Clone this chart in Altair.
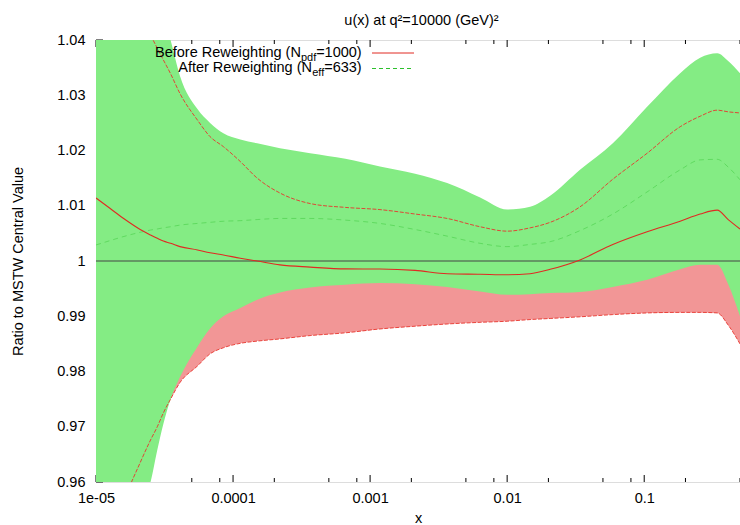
import altair as alt
import pandas as pd

# ---- data ----
x_vals = [1e-5, 1.27e-5, 1.63e-5, 2.1e-5, 2.5e-5, 2.8e-5, 3.1e-5, 3.5e-5, 4.1e-5, 5.5e-5,
          6.8e-5, 8.5e-5, 1.13e-4, 1.5e-4, 2.2e-4, 3.65e-4, 6.6e-4, 1.18e-3, 2.13e-3, 3.65e-3,
          6.35e-3, 0.01, 0.0147, 0.0206, 0.034, 0.059, 0.105, 0.183, 0.256, 0.341, 0.41, 0.5]

before_central = [1.0114, 1.0095, 1.0075, 1.0057, 1.0047, 1.0041, 1.0036, 1.0032, 1.0026, 1.0020,
                  1.0015, 1.0011, 1.0005, 1.0000, 0.9993, 0.9989, 0.99857, 0.99855, 0.9983, 0.9977,
                  0.9976, 0.9975, 0.9977, 0.9985, 1.0002, 1.0030, 1.0053, 1.0072, 1.0085, 1.0092,
                  1.0075, 1.0058]
before_upper = [1.070, 1.062, 1.052, 1.046, 1.041, 1.0385, 1.0364, 1.0339, 1.0303, 1.0255,
                1.0225, 1.0207, 1.0180, 1.0150, 1.0123, 1.0104, 1.0097, 1.0093, 1.0085, 1.0077,
                1.0062, 1.0054, 1.0060, 1.0070, 1.0098, 1.0148, 1.0195, 1.0243, 1.0262, 1.0273,
                1.0270, 1.0268]
before_lower = [0.940, 0.948, 0.957, 0.9635, 0.9676, 0.9700, 0.9725, 0.9750, 0.9780, 0.9810,
                0.9832, 0.9843, 0.9851, 0.9855, 0.9859, 0.9865, 0.9870, 0.9877, 0.9882, 0.9886,
                0.9889, 0.9891, 0.9894, 0.9896, 0.9899, 0.9903, 0.9906, 0.9907, 0.9907, 0.9906,
                0.9884, 0.9850]
after_central = [1.0029, 1.0037, 1.0045, 1.0052, 1.0056, 1.0058, 1.0060, 1.0062, 1.0065, 1.0068,
                 1.0070, 1.0072, 1.0073, 1.0075, 1.0077, 1.0077, 1.0074, 1.0068, 1.0057, 1.0045,
                 1.0032, 1.0026, 1.0030, 1.0035, 1.0055, 1.0085, 1.0125, 1.0165, 1.0183, 1.0184,
                 1.0170, 1.0147]
after_upper = [1.090, 1.080, 1.067, 1.057, 1.052, 1.048, 1.0445, 1.040, 1.0335, 1.0275,
               1.0250, 1.0231, 1.0220, 1.0213, 1.0204, 1.0195, 1.0185, 1.0171, 1.0158, 1.0141,
               1.0115, 1.0093, 1.0098, 1.0118, 1.0165, 1.0213, 1.0279, 1.0340, 1.0368, 1.0376,
               1.0362, 1.0340]
after_lower = [0.920, 0.935, 0.947, 0.955, 0.960, 0.9658, 0.9705, 0.9750, 0.9790, 0.9845,
               0.9878, 0.9900, 0.9915, 0.9930, 0.9943, 0.9952, 0.9957, 0.9960, 0.9958, 0.9953,
               0.9945, 0.9939, 0.9940, 0.9942, 0.9944, 0.9953, 0.9966, 0.9985, 0.9993, 0.9993,
               0.9958, 0.9900]

x_major = [1e-5, 1e-4, 1e-3, 1e-2, 1e-1]
x_minor = [2e-5, 5e-5, 8e-5, 2e-4, 5e-4, 8e-4, 2e-3, 5e-3, 8e-3, 2e-2, 5e-2, 8e-2, 2e-1, 5e-1]
y_major = [0.96, 0.97, 0.98, 0.99, 1.0, 1.01, 1.02, 1.03, 1.04]

title_text = "u(x) at q\u00b2=10000 (GeV)\u00b2"
x_title = "x"
y_title = "Ratio to MSTW Central Value"

df = pd.DataFrame({
    "x": x_vals,
    "bc": before_central, "bu": before_upper, "bl": before_lower,
    "ac": after_central, "au": after_upper, "al": after_lower,
})
xmaj_df = pd.DataFrame({"x": x_major})
xmin_df = pd.DataFrame({"x": x_minor})
ymaj_df = pd.DataFrame({"y": y_major})
one = pd.DataFrame({"k": [0]})

FONT = "Liberation Sans"
W, H = 644, 442

xscale = alt.Scale(type="log", domain=[1e-5, 0.5], nice=False)
yscale = alt.Scale(domain=[0.96, 1.04], nice=False, zero=False)
xaxis = alt.Axis(values=x_major, ticks=False, domain=False, grid=False,
                 labelExpr="datum.value < 0.00005 ? '1e-05' : toString(datum.value)",
                 labelFont=FONT, labelFontSize=14.5, labelColor="#000", labelPadding=9,
                 labelFlush=False,
                 title=x_title, titleFont=FONT, titleFontSize=14.5, titleFontWeight="normal",
                 titleColor="#000", titlePadding=7)
yaxis = alt.Axis(values=y_major, ticks=False, domain=False, grid=False,
                 labelExpr="abs(datum.value - 1) < 1e-9 ? '1' : format(datum.value, '.2f')",
                 labelFont=FONT, labelFontSize=14.5, labelColor="#000", labelPadding=11,
                 title=y_title, titleFont=FONT, titleFontSize=14.5, titleFontWeight="normal",
                 titleColor="#000", titleX=-78, titleY=H / 2, titleAlign="center",
                 titleBaseline="middle")


def X(field="x"):
    return alt.X(f"{field}:Q", scale=xscale, axis=xaxis)


def Y(field):
    return alt.Y(f"{field}:Q", scale=yscale, axis=yaxis)


# ticks (inward, drawn beneath the bands)
bot_major = alt.Chart(xmaj_df).mark_rule(color="#000", strokeWidth=1).encode(
    x=X(), y=alt.value(H), y2=alt.value(H - 7))
top_major = alt.Chart(xmaj_df).mark_rule(color="#000", strokeWidth=1).encode(
    x=X(), y=alt.value(0), y2=alt.value(7))
bot_minor = alt.Chart(xmin_df).mark_rule(color="#000", strokeWidth=1).encode(
    x=X(), y=alt.value(H), y2=alt.value(H - 4))
top_minor = alt.Chart(xmin_df).mark_rule(color="#000", strokeWidth=1).encode(
    x=X(), y=alt.value(0), y2=alt.value(4))
left_major = alt.Chart(ymaj_df).mark_rule(color="#000", strokeWidth=1).encode(
    y=Y("y"), x=alt.value(0), x2=alt.value(7))

base = alt.Chart(df)
red_band = base.mark_area(color="#f29696", clip=True, interpolate="monotone").encode(
    x=X(), y=Y("bl"), y2="bu:Q")
green_band = base.mark_area(color="#84ec84", clip=True, interpolate="monotone").encode(
    x=X(), y=Y("al"), y2="au:Q")

unity = alt.Chart(one).mark_rule(color="#444", strokeWidth=1).encode(
    y=alt.Y("v:Q", scale=yscale, axis=yaxis), x=alt.value(0), x2=alt.value(W)
).transform_calculate(v="1")

red_up = base.mark_line(color="#e8342c", strokeWidth=0.9, clip=True, interpolate="monotone",
                        strokeDash=[4, 1.5]).encode(x=X(), y=Y("bu"))
red_lo = base.mark_line(color="#e8342c", strokeWidth=0.9, clip=True, interpolate="monotone",
                        strokeDash=[4, 1.5]).encode(x=X(), y=Y("bl"))
green_c = base.mark_line(color="#3cc83c", strokeWidth=1, clip=True, interpolate="monotone",
                         strokeDash=[5, 4], opacity=0.5).encode(x=X(), y=Y("ac"))
red_c = base.mark_line(color="#e02a22", strokeWidth=1.1, clip=True,
                       interpolate="monotone").encode(x=X(), y=Y("bc"))


def txt(s, x, y, size=14.5, align="right"):
    return alt.Chart(one).mark_text(text=s, font=FONT, fontSize=size, align=align,
                                    baseline="alphabetic", color="#000").encode(
        x=alt.value(x), y=alt.value(y))


legend = [
    txt("=1000)", 265.7, 17), txt("pdf", 220.2, 20.5, 11), txt("Before Reweighting (N", 204.9, 17),
    txt("=633)", 265.7, 32), txt("eff", 228.2, 35.5, 11), txt("After Reweighting (N", 216.0, 32),
]
leg_red = alt.Chart(one).mark_rule(color="#e02a22", strokeWidth=1).encode(
    x=alt.value(276), x2=alt.value(318), y=alt.value(13))
leg_green = alt.Chart(one).mark_rule(color="#2cc02c", strokeWidth=1, strokeDash=[4, 3]).encode(
    x=alt.value(276), x2=alt.value(318), y=alt.value(28.5))

title = txt(title_text, 325.5, -15, 14.5, "center")

chart = alt.layer(
    bot_major, top_major, bot_minor, top_minor, left_major,
    red_band, green_band, unity, red_up, red_lo, green_c, red_c,
    *legend, leg_red, leg_green, title,
).properties(
    width=W, height=H,
    autosize=alt.AutoSizeParams(type="none"),
    padding={"left": 96, "top": 40, "right": 0, "bottom": 43},
).configure_view(stroke="#000", strokeWidth=1).configure(background="white")

chart.save("out.html", embed_options={"renderer": "svg", "actions": False})
